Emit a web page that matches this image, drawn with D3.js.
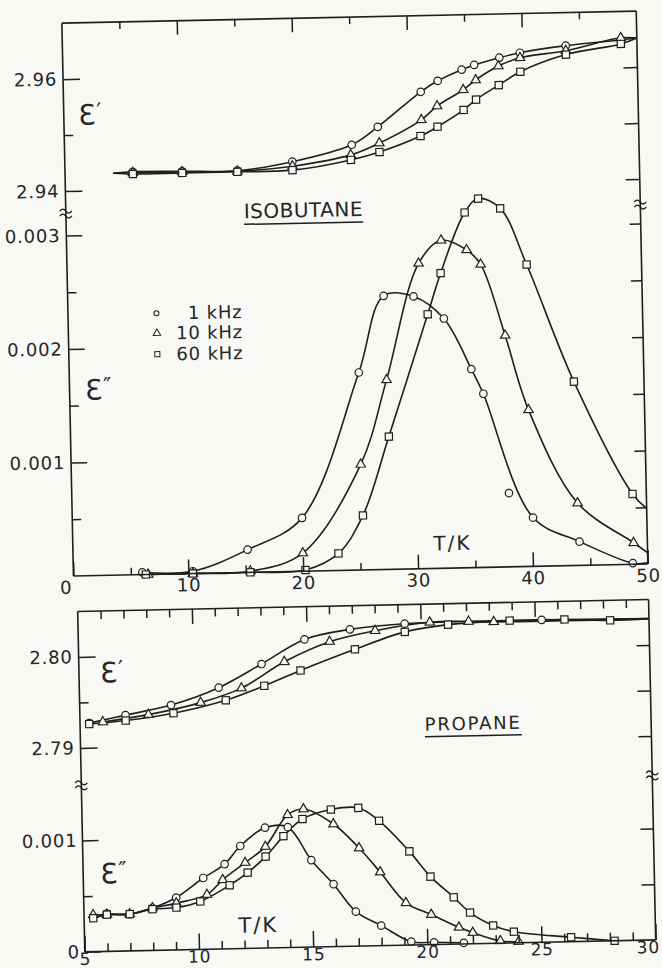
<!DOCTYPE html>
<html>
<head>
<meta charset="utf-8">
<script src="https://cdn.jsdelivr.net/npm/d3@7"></script>
<style>
  body { margin: 0; background: #f8f8f5; }
  svg { display: block; }
  text { font-family: "DejaVu Sans", sans-serif; fill: #262626; }
</style>
</head>
<body>
<div id="chart"></div>
<script>
// values, [T/K, value]

// isobutane, eps'
var iso1kReal = [[5.9,2.9432],[10.2,2.9431],[15.0,2.9430],[19.8,2.9444],[25.0,2.9472],[27.3,2.9503],[31.1,2.9564],[32.6,2.9583],[34.7,2.9602],[35.8,2.9610],[38.0,2.9622],[39.8,2.9630],[43.8,2.9641],[48.6,2.9649]]
var iso10kReal = [[5.9,2.9430],[10.2,2.9430],[15.0,2.9429],[19.8,2.9436],[24.9,2.9454],[27.4,2.9474],[31.1,2.9514],[32.5,2.9538],[34.8,2.9566],[35.9,2.9583],[37.9,2.9607],[39.8,2.9621],[43.8,2.9632],[48.6,2.9653]]
var iso60kReal = [[5.9,2.9428],[10.2,2.9428],[15.0,2.9428],[19.8,2.9429],[24.9,2.9445],[27.4,2.9458],[31.0,2.9485],[32.5,2.9501],[34.8,2.9530],[35.9,2.9548],[37.9,2.9573],[39.8,2.9596],[43.8,2.9625],[48.6,2.9642]]
var isoRealLineStart = [4.2, 2.9430]
var isoRealLineEnd = [50, 2.9652]

// isobutane, eps''
var iso1kLoss = [[6.0,0.00002],[10.4,0.00002],[15.2,0.00020],[20.0,0.00047],[25.2,0.00174],[27.5,0.00241],[30.1,0.00240],[32.7,0.00220],[35.0,0.00175],[36.0,0.00153],[40.1,0.00043],[44.1,0.00021],[48.7,0.00001]]
var iso1kLossStray = [[38.05,0.00065]]   // point that sits off the drawn curve
var iso10kLoss = [[6.5,0.00000],[10.4,0.00000],[15.4,0.00001],[20.0,0.00016],[25.2,0.00093],[27.6,0.00167],[30.6,0.00269],[32.6,0.00289],[34.8,0.00280],[36.0,0.00267],[38.0,0.00204],[39.9,0.00138],[44.0,0.00055],[48.8,0.00019]]
var iso60kLoss = [[6.3,0.00000],[10.4,0.00000],[15.4,0.00000],[20.2,0.00001],[23.1,0.00015],[25.3,0.00048],[27.7,0.00117],[31.3,0.00224],[32.5,0.00260],[34.7,0.00313],[35.9,0.00325],[37.8,0.00316],[40.0,0.00266],[43.9,0.00162],[48.8,0.00062]]
var iso1kLossEnd = [50, 0.00001]
var iso10kLossEnd = [50, 0.00010]
var iso60kLossEnd = [50, 0.00049]

// propane, eps'
var pro1kReal = [[5.4,2.7927],[7.0,2.7935],[9.0,2.7945],[11.1,2.7963],[13.0,2.7988],[14.9,2.8014],[16.9,2.8024],[19.3,2.8029],[25.3,2.8030]]
var pro10kReal = [[6.0,2.7928],[8.0,2.7935],[10.3,2.7947],[12.1,2.7962],[14.0,2.7990],[16.0,2.8011],[18.0,2.8022],[20.4,2.8030],[22.1,2.8030],[23.2,2.8029]]
var pro60kReal = [[5.4,2.7926],[7.0,2.7929],[9.1,2.7936],[11.4,2.7949],[13.1,2.7964],[14.7,2.7980],[17.1,2.8002],[19.3,2.8020],[21.2,2.8027],[23.9,2.8030],[26.3,2.8030],[28.3,2.8028]]
var proRealLineEnd = [30, 2.8029]

// propane, eps''
var pro1kLoss = [[6.0,0.00034],[7.0,0.00033],[8.0,0.00038],[9.05,0.00047],[10.25,0.00064],[11.2,0.00076],[11.9,0.00092],[13.0,0.00108],[14.0,0.00108],[15.0,0.00078],[15.95,0.00056],[16.9,0.00031],[18.0,0.00018],[19.3,0.00003],[20.3,0.00002],[21.6,0.00001]]
var pro10kLoss = [[5.4,0.00033],[6.0,0.00033],[7.0,0.00033],[8.0,0.00038],[9.05,0.00042],[10.4,0.00049],[11.1,0.00062],[12.1,0.00077],[13.0,0.00091],[14.0,0.00119],[14.7,0.00124],[16.0,0.00110],[17.1,0.00088],[18.0,0.00066],[19.1,0.00038],[20.2,0.00027],[21.4,0.00015],[22.0,0.00010],[23.2,0.00002],[24.0,0.00001]]
var pro60kLoss = [[5.4,0.00030],[6.0,0.00033],[7.0,0.00033],[8.0,0.00037],[9.05,0.00038],[10.1,0.00043],[11.4,0.00057],[12.2,0.00068],[13.0,0.00082],[13.8,0.00100],[14.65,0.00115],[15.9,0.00123],[17.1,0.00124],[18.0,0.00112],[19.3,0.00084],[20.2,0.00061],[21.2,0.00042],[21.9,0.00028],[22.9,0.00016],[23.8,0.00010],[26.3,0.00004],[28.2,0.00000]]

var legendLabels = ['1 kHz', '10 kHz', '60 kHz']
var isoXTicks = [0, 10, 20, 30, 40, 50]
var proXTicks = [5, 10, 15, 20, 25, 30]

var W = 662, H = 968
var ink = '#1f1f1f'
var paper = '#f8f8f5'

var svg = d3.select('#chart').append('svg')
            .attr('width', W)
            .attr('height', H)
svg.append('rect').attr('width', W).attr('height', H).attr('fill', paper)

// the scanned page sits slightly rotated
var g = svg.append('g').attr('transform', 'rotate(-1.2,360,480)')

var xIso = d3.scaleLinear().domain([0, 50]).range([71.5, 646])
var yIsoReal = d3.scaleLinear().domain([2.94, 2.97]).range([185, 17])
var yIsoLoss = d3.scaleLinear().domain([0, 0.003]).range([570, 229.5])
var xPro = d3.scaleLinear().domain([5, 30]).range([75, 646])
var yProReal = d3.scaleLinear().domain([2.79, 2.805]).range([742, 605.5])
var yProLoss = d3.scaleLinear().domain([0, 0.001]).range([946, 834.5])

function axis(gen, tr, size) {
  var a = g.append('g').attr('transform', tr).call(gen)
  a.attr('font-size', null).attr('font-family', null)
  a.select('.domain').remove()
  a.selectAll('line').attr('stroke', ink).attr('stroke-width', 1.5)
  a.selectAll('text').style('font-size', (size || 18) + 'px').attr('letter-spacing', 0.8)
  return a
}

function frame(x, yTop, yBot) {
  var x0 = x.range()[0], x1 = x.range()[1]
  var lines = [[x0, yTop, x1, yTop], [x0, yBot, x1, yBot], [x0, yTop, x0, yBot], [x1, yTop, x1, yBot]]
  g.append('g').selectAll('line').data(lines).enter().append('line')
    .attr('x1', d => d[0]).attr('y1', d => d[1])
    .attr('x2', d => d[2]).attr('y2', d => d[3])
    .attr('stroke', ink).attr('stroke-width', 1.6)
}

function breakMark(x, y) {
  var p = 'M' + (x - 6) + ',' + (y - 2) + ' q3,-4 6,0 t6,0 M' + (x - 6) + ',' + (y + 3) + ' q3,-4 6,0 t6,0'
  g.append('path').attr('d', p).attr('fill', 'none').attr('stroke', ink).attr('stroke-width', 1.3)
}

var line = (x, y) => d3.line().x(d => x(d[0])).y(d => y(d[1])).curve(d3.curveCatmullRom.alpha(0.5))

var shapes = {
  circle: d3.symbol().type(d3.symbolCircle).size(44)(),
  triangle: d3.symbol().type(d3.symbolTriangle).size(38)(),
  square: d3.symbol().type(d3.symbolSquare).size(52)()
}

var curveLayer = g.append('g')
var markLayer = g.append('g')

function series(pts, x, y, shape, start, end) {
  var pl = (start ? [start] : []).concat(pts, end ? [end] : [])
  curveLayer.append('path').datum(pl)
    .attr('d', line(x, y))
    .attr('fill', 'none').attr('stroke', ink).attr('stroke-width', 1.6)
  marks(pts, x, y, shape)
}

function marks(pts, x, y, shape) {
  markLayer.append('g').selectAll('path').data(pts).enter().append('path')
    .attr('d', shapes[shape])
    .attr('transform', d => 'translate(' + x(d[0]) + ',' + y(d[1]) + ')')
    .attr('fill', paper).attr('stroke', ink).attr('stroke-width', 1.2)
}

// ---------- isobutane ----------
frame(xIso, yIsoReal(2.97), yIsoLoss(0))

var isoMajor = axis(d3.axisBottom(xIso).tickValues(isoXTicks).tickSize(-14).tickPadding(5).tickFormat(d3.format('d')),
  'translate(0,' + yIsoLoss(0) + ')')
isoMajor.selectAll('.tick').filter(d => d === 0).select('text').attr('x', -8)
axis(d3.axisBottom(xIso).tickValues([5, 15, 25, 35, 45]).tickSize(-7).tickFormat(''), 'translate(0,' + yIsoLoss(0) + ')')
axis(d3.axisTop(xIso).tickValues([10, 20, 30, 40]).tickSize(-14).tickFormat(''), 'translate(0,' + yIsoReal(2.97) + ')')
axis(d3.axisTop(xIso).tickValues([5, 15, 25, 35, 45]).tickSize(-7).tickFormat(''), 'translate(0,' + yIsoReal(2.97) + ')')

axis(d3.axisLeft(yIsoReal).tickValues([2.94, 2.96]).tickSize(-17).tickPadding(6).tickFormat(d3.format('.2f')), 'translate(' + xIso(0) + ',0)')
axis(d3.axisLeft(yIsoReal).tickValues([2.95]).tickSize(-9).tickFormat(''), 'translate(' + xIso(0) + ',0)')
axis(d3.axisLeft(yIsoLoss).tickValues([0.001, 0.002, 0.003]).tickSize(-16).tickPadding(6).tickFormat(d3.format('.3f')), 'translate(' + xIso(0) + ',0)')
axis(d3.axisLeft(yIsoLoss).tickValues([0.0005, 0.0015, 0.0025]).tickSize(-9).tickFormat(''), 'translate(' + xIso(0) + ',0)')

axis(d3.axisRight(yIsoReal).tickValues([2.94, 2.95, 2.96]).tickSize(-14).tickFormat(''), 'translate(' + xIso(50) + ',0)')
axis(d3.axisRight(yIsoLoss).tickValues([0.0005, 0.001, 0.0015, 0.002, 0.0025, 0.003]).tickSize(-11).tickFormat(''), 'translate(' + xIso(50) + ',0)')

breakMark(xIso(0), 207)
breakMark(xIso(50), 210)

series(iso1kReal, xIso, yIsoReal, 'circle', isoRealLineStart, isoRealLineEnd)
series(iso10kReal, xIso, yIsoReal, 'triangle', isoRealLineStart, isoRealLineEnd)
series(iso60kReal, xIso, yIsoReal, 'square', isoRealLineStart, isoRealLineEnd)
series(iso1kLoss, xIso, yIsoLoss, 'circle', null, iso1kLossEnd)
marks(iso1kLossStray, xIso, yIsoLoss, 'circle')
series(iso10kLoss, xIso, yIsoLoss, 'triangle', null, iso10kLossEnd)
series(iso60kLoss, xIso, yIsoLoss, 'square', null, iso60kLossEnd)

// ---------- propane ----------
frame(xPro, yProReal(2.805), yProLoss(0))

var proMinor = d3.range(6, 30).filter(d => d % 5 !== 0)
var proMajor = axis(d3.axisBottom(xPro).tickValues(proXTicks).tickSize(-16).tickPadding(1).tickFormat(d3.format('d')), 'translate(0,' + yProLoss(0) + ')', 17)
proMajor.selectAll('.tick').filter(d => d === 30).select('text').attr('x', -8)
axis(d3.axisBottom(xPro).tickValues(proMinor).tickSize(-8).tickFormat(''), 'translate(0,' + yProLoss(0) + ')')
axis(d3.axisTop(xPro).tickValues([10, 15, 20, 25]).tickSize(-15).tickFormat(''), 'translate(0,' + yProReal(2.805) + ')')
axis(d3.axisTop(xPro).tickValues(proMinor).tickSize(-8).tickFormat(''), 'translate(0,' + yProReal(2.805) + ')')

axis(d3.axisLeft(yProReal).tickValues([2.79, 2.80]).tickSize(-17).tickPadding(6).tickFormat(d3.format('.2f')), 'translate(' + xPro(5) + ',0)')
axis(d3.axisLeft(yProReal).tickValues([2.795]).tickSize(-9).tickFormat(''), 'translate(' + xPro(5) + ',0)')
axis(d3.axisLeft(yProLoss).tickValues([0, 0.001]).tickSize(-16).tickPadding(5).tickFormat(d => d === 0 ? '0' : d3.format('.3f')(d)), 'translate(' + xPro(5) + ',0)')
axis(d3.axisLeft(yProLoss).tickValues([0.0005]).tickSize(-9).tickFormat(''), 'translate(' + xPro(5) + ',0)')

axis(d3.axisRight(yProReal).tickValues([2.79, 2.795, 2.80]).tickSize(-13).tickFormat(''), 'translate(' + xPro(30) + ',0)')
axis(d3.axisRight(yProLoss).tickValues([0.0005, 0.001]).tickSize(-13).tickFormat(''), 'translate(' + xPro(30) + ',0)')

breakMark(xPro(5), 779)
breakMark(xPro(30), 781)

series(pro1kReal, xPro, yProReal, 'circle', null, proRealLineEnd)
series(pro10kReal, xPro, yProReal, 'triangle', null, proRealLineEnd)
series(pro60kReal, xPro, yProReal, 'square', null, proRealLineEnd)
series(pro1kLoss, xPro, yProLoss, 'circle')
series(pro10kLoss, xPro, yProLoss, 'triangle')
series(pro60kLoss, xPro, yProLoss, 'square')

// ---------- labels ----------
function label(txt, x, y, size, anchor, spacing) {
  return g.append('text').attr('x', x).attr('y', y)
    .attr('text-anchor', anchor || 'start')
    .attr('letter-spacing', spacing || 0)
    .style('font-size', size + 'px')
    .text(txt)
}

function eps(x, y, primes) {
  var t = g.append('text').attr('x', x).attr('y', y).style('font-size', '28px')
  t.append('tspan').text('\u0190')
  t.append('tspan').attr('dx', 1).attr('dy', -6).style('font-size', '22px').text(primes)
}

eps(86, 119, '\u2032')
eps(87, 394, '\u2033')
eps(96, 677, '\u2032')
eps(92, 878, '\u2033')

function underlined(txt, cx, y, size, spacing) {
  var t = label(txt, cx, y, size, 'middle', spacing)
  var w = t.node().getComputedTextLength()
  g.append('line').attr('x1', cx - w / 2).attr('x2', cx + w / 2)
    .attr('y1', y + 6).attr('y2', y + 6)
    .attr('stroke', ink).attr('stroke-width', 1.5)
}
underlined('ISOBUTANE', 309, 216, 20, 0.5)
underlined('PROPANE', 468, 732, 18, 1.8)

label('T/K', 451, 552, 20, 'middle', 2)
label('T/K', 249, 930, 21, 'middle', 2)

// legend
var legendShapes = [
  d3.symbol().type(d3.symbolCircle).size(20)(),
  d3.symbol().type(d3.symbolTriangle).size(24)(),
  d3.symbol().type(d3.symbolSquare).size(26)()
]
var legendRows = [309, 329, 350]
legendLabels.forEach((d, i) => {
  g.append('path').attr('d', legendShapes[i])
    .attr('transform', 'translate(160,' + legendRows[i] + ')')
    .attr('fill', 'none').attr('stroke', ink).attr('stroke-width', 1)
  label(d, 246, legendRows[i] + 6.5, 18, 'end', 0.8)
})
</script>
</body>
</html>
